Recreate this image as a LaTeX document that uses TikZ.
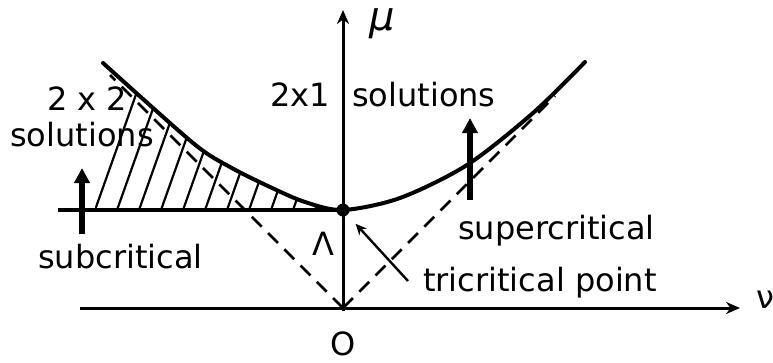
\documentclass[tikz,border=0pt]{standalone}
\usepackage{fontspec}
\setmainfont{DejaVu Sans}
\usetikzlibrary{arrows.meta,positioning}

\begin{document}
\begin{tikzpicture}[
		x=1pt, y=-1pt,
		axis/.style={line width=3pt, -{Stealth[length=14pt,width=12pt]}},
		curve/.style={line width=4pt, line cap=round},
		asym/.style={line width=2.5pt, dash pattern=on 14pt off 9pt},
		hatch/.style={line width=2.2pt},
		txt/.style={font=\fontsize{32}{36}\selectfont, inner sep=0pt},
		fatarrow/.style={line width=6pt, -{Triangle[length=15pt,width=15pt]}},
		pointer/.style={line width=2.4pt, -{Stealth[length=11pt,width=10pt]}},
		dot/.style={circle, fill, inner sep=0pt, minimum size=13pt}
	]
		\useasboundingbox (0,0) rectangle (773,362);
		% axes
		\coordinate (O) at (343,308);
		\coordinate (xstart) at (80,308);
		\coordinate (xend) at (740,308);
		\coordinate (ybot) at (343,311);
		\coordinate (yend) at (343,10);
		\draw[axis] (xstart) -- (xend);
		\draw[axis] (ybot) -- (yend);
		\node[txt, font=\fontsize{40}{44}\selectfont\itshape] (mu) at (382,24) {μ};
		\node[txt, anchor=west] (nu) at (756,300) {ν};
		\node[txt, anchor=base] (zero) at (343,355) {O};
		% asymptotes
		\coordinate (asl) at (110,75);
		\coordinate (asr) at (555,96);
		\draw[asym] (O) -- (asl);
		\draw[asym] (O) -- (asr);
		% hatched region
		\begin{scope}
			\clip plot[smooth] coordinates {(103,63) (193,143) (230,167) (270,187) (305,202) (343,210)} -- (95,210) -- cycle;
			\foreach \hx in {95,117,...,337}
				\draw[hatch] (\hx,210) -- ++(60,-169);
		\end{scope}
		% first order line and curve
		\node[dot] (tcp) at (343,210) {};
		\coordinate (lstart) at (58,210);
		\draw[line width=3.4pt] (lstart) -- (tcp.center);
		\draw[curve] plot[smooth] coordinates {(103,63) (193,143) (230,167) (270,187) (305,202) (343,210) (400,198) (467,165) (533,113) (585,62)};
		\node[txt, anchor=base] (lam) at (323,255) {Λ};
		% labels
		\node[txt, anchor=base] (twotwo) at (87,110) {2 x 2};
		\node[txt, anchor=base] (soll) at (82,146) {solutions};
		\node[txt, anchor=base east] (twoone) at (330,106) {2x1};
		\node[txt, anchor=base west] (solr) at (352,106) {solutions};
		\node[txt, anchor=base west] (sub) at (38,268) {subcritical};
		\node[txt, anchor=base west] (sup) at (458,239) {supercritical};
		\node[txt, anchor=base west] (tri) at (423,291) {tricritical point};
		% arrows
		\coordinate (ual) at (82,234);
		\coordinate (uel) at (82,168);
		\coordinate (uar) at (470,200);
		\coordinate (uer) at (470,118);
		\draw[fatarrow] (ual) -- (uel);
		\draw[fatarrow] (uar) -- (uer);
		\coordinate (tpa) at (408,281);
		\draw[pointer, shorten >=12pt] (tpa) -- (tcp);
	\end{tikzpicture}
\end{document}
